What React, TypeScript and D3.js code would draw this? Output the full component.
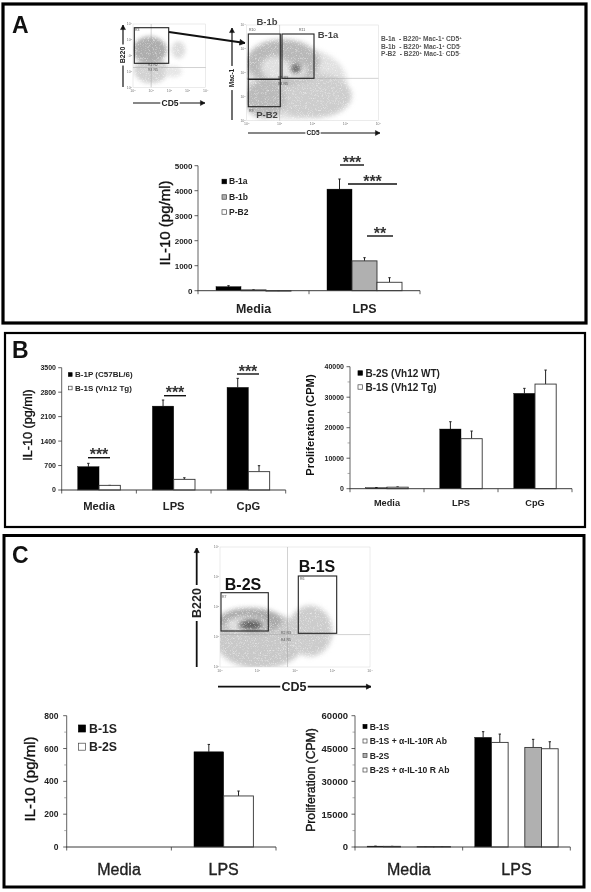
import React from "react";
import * as d3 from "d3";

// ---------- data ----------
const twoCats = ["Media", "LPS"];
const threeCats = ["Media", "LPS", "CpG"];

const aSeries = ["B-1a", "B-1b", "P-B2"];
const aValues = [[161, 4063], [32, 1193], [3, 337]];
const aErrors = [[200, 4467], [40, 1320], [3, 520]];
const aTicks = [0, 1000, 2000, 3000, 4000, 5000];

const bLeftSeries = ["B-1P (C57BL/6)", "B-1S (Vh12 Tg)"];
const bLeftValues = [[667, 2400, 2936], [133, 305, 525]];
const bLeftErrors = [[763, 2575, 3195], [133, 350, 696]];
const bLeftTicks = [0, 700, 1400, 2100, 2800, 3500];

const bRightSeries = ["B-2S (Vh12 WT)", "B-1S (Vh12 Tg)"];
const bRightValues = [[300, 19560, 31260], [500, 16400, 34300]];
const bRightErrors = [[350, 21960, 32900], [600, 18900, 38900]];
const bRightTicks = [0, 10000, 20000, 30000, 40000];
const bRightMinor = [5000, 15000, 25000, 35000];

const cLeftSeries = ["B-1S", "B-2S"];
const cLeftValues = [[0, 580], [0, 311]];
const cLeftErrors = [[0, 625], [0, 341]];
const cLeftTicks = [0, 200, 400, 600, 800];
const cLeftMinor = [100, 300, 500, 700];

const cRightSeries = ["B-1S", "B-1S + α-IL-10R Ab", "B-2S", "B-2S + α-IL-10 R Ab"];
const cRightValues = [[400, 50100], [300, 47800], [200, 45500], [200, 44900]];
const cRightErrors = [[400, 52700], [300, 51600], [200, 49200], [200, 48100]];
const cRightTicks = [0, 15000, 30000, 45000, 60000];
const cRightMinor = [7500, 22500, 37500, 52500];

// flow-plot density regions, in log decades: [log x, log y, radius x, radius y, shade]
type Blob = [number, number, number, number, string];
const flowGate: Blob[] = [
  [1.0, 1.1, 0.95, 0.85, "#d2d2d2"],
  [2.2, 1.0, 0.5, 0.35, "#e6e6e6"],
  [2.5, 2.36, 0.38, 0.55, "#dcdcdc"],
  [0.92, 2.36, 0.95, 0.85, "#adadad"],
];
const flowMac: Blob[] = [
  [1.3, 1.6, 1.75, 1.55, "#e0e0e0"],
  [2.0, 1.05, 1.2, 0.95, "#cdcdcd"],
  [0.55, 0.9, 0.62, 0.8, "#bababa"],
  [1.1, 2.45, 1.12, 0.95, "#b8b8b8"],
  [0.85, 2.2, 0.42, 0.5, "#e0e0e0"],
  [1.45, 2.1, 0.36, 0.36, "#e8e8e8"],
  [1.5, 2.2, 0.18, 0.22, "#8a8a8a"],
  [1.48, 2.15, 0.1, 0.12, "#4d4d4d"],
];
const flowSpleen: Blob[] = [
  [1.07, 0.9, 1.2, 0.95, "#c8c8c8"],
  [2.4, 1.2, 0.6, 0.85, "#cccccc"],
  [0.8, 1.55, 0.85, 0.42, "#a8a8a8"],
  [0.7, 1.42, 0.55, 0.26, "#e0e0e0"],
  [0.82, 1.4, 0.32, 0.17, "#5e5e5e"],
];
const decadeTicks = [0, 1, 2, 3, 4];

// ---------- helpers ----------
const FONT = "'Liberation Sans', Arial, sans-serif";
const BLACK = "#000000";
const GREY = "#b0b0b0";
const WHITE = "#ffffff";

type ChartProps = {
  cats: string[];
  values: number[][];
  errors: number[][];
  fills: string[];
  domainMax: number;
  ticks: number[];
  minor?: number[];
  x0: number; x1: number; y0: number; y1: number;
  barW: number;
  slots?: (number | null)[];
  tickFont: number; tickEnd: number;
  catFont: number; catBase: number; catHeavy?: boolean;
  yLabel: string; yLabelX: number; yLabelY: number; yLabelFont: number; yLabelHeavy?: boolean;
  showValues?: boolean;
};

function BarChart(p: ChartProps) {
  const y = d3.scaleLinear().domain([0, p.domainMax]).range([p.y0, p.y1]);
  const band = d3.scaleBand<string>().domain(p.cats).range([p.x0, p.x1]);
  const slots = p.slots ?? p.values.map((_, i) => i);
  const inner = d3.scaleBand<number>().domain(d3.range(slots.length)).range([0, p.barW * slots.length]);
  const edges = p.cats.map((c) => band(c)!).concat([p.x1]);
  const axis = "#3a3a3a";
  const catHeavy = p.catHeavy ?? true;
  return (
    <g fontFamily={FONT}>
      {slots.map((s, slot) => {
        if (s === null) return null;
        return p.cats.map((c, ci) => {
          const v = p.values[s][ci];
          const e = p.errors[s][ci];
          if (v === 0) return null;
          const groupLeft = band(c)! + band.bandwidth() / 2 - (p.barW * slots.length) / 2;
          const bx = groupLeft + inner(slot)!;
          const cx = bx + p.barW / 2;
          const fill = p.fills[s];
          return (
            <g key={`${slot}-${c}`}>
              <line x1={cx} x2={cx} y1={y(v)} y2={y(e)} stroke="#222" strokeWidth={1} />
              <line x1={cx - 1.2} x2={cx + 1.2} y1={y(e)} y2={y(e)} stroke="#222" strokeWidth={1} />
              <rect x={bx} y={y(v)} width={p.barW} height={Math.max(y(0) - y(v), 0.5)} fill={fill}
                stroke={fill === BLACK ? BLACK : "#333"} strokeWidth={fill === BLACK ? 0.4 : 0.9} />
              {p.showValues && (
                <text x={cx} y={y(e) - 3.5} textAnchor="middle" fontSize={6.8} fontWeight="bold" fill="#333">{v}</text>
              )}
            </g>
          );
        });
      })}
      <line x1={p.x0} x2={p.x0} y1={p.y0} y2={p.y1} stroke={axis} strokeWidth={0.8} />
      <line x1={p.x0 - 0.5} x2={p.x1} y1={p.y0} y2={p.y0} stroke={axis} strokeWidth={1} />
      {edges.map((e, i) => (
        <line key={i} x1={e} x2={e} y1={p.y0} y2={p.y0 + 3.5} stroke={axis} strokeWidth={0.8} />
      ))}
      {p.ticks.map((t) => (
        <g key={t}>
          <line x1={p.x0 - 3.5} x2={p.x0} y1={y(t)} y2={y(t)} stroke={axis} strokeWidth={0.8} />
          <text x={p.tickEnd} y={y(t)} dy="0.35em" textAnchor="end" fontSize={p.tickFont} fontWeight="bold" fill="#222">{t}</text>
        </g>
      ))}
      {(p.minor ?? []).map((t) => (
        <line key={t} x1={p.x0 - 2.5} x2={p.x0} y1={y(t)} y2={y(t)} stroke="#777" strokeWidth={0.6} />
      ))}
      {p.cats.map((c) => (
        <text key={c} x={band(c)! + band.bandwidth() / 2} y={p.catBase} textAnchor="middle" fontSize={p.catFont}
          fontWeight={catHeavy ? "bold" : "normal"} stroke={catHeavy ? "none" : "#222"} strokeWidth={catHeavy ? 0 : 0.35} fill="#222">{c}</text>
      ))}
      <text transform={`translate(${p.yLabelX},${p.yLabelY}) rotate(-90)`} textAnchor="middle" fontSize={p.yLabelFont}
        fontWeight={p.yLabelHeavy ? "bold" : "normal"} stroke={p.yLabelHeavy ? "none" : "#111"} strokeWidth={p.yLabelHeavy ? 0 : 0.35} fill="#111">
        {p.yLabel}
      </text>
    </g>
  );
}

function Legend({ names, fills, x, tx, ys, size, font }: { names: string[]; fills: string[]; x: number; tx: number; ys: number[]; size: number; font: number }) {
  return (
    <g fontFamily={FONT}>
      {names.map((n, i) => (
        <g key={n}>
          <rect x={x} y={ys[i] - size / 2} width={size} height={size} fill={fills[i]}
            stroke={fills[i] === BLACK ? BLACK : "#444"} strokeWidth={0.7} />
          <text x={tx} y={ys[i]} dy="0.35em" fontSize={font} fontWeight="bold" fill="#222">{n}</text>
        </g>
      ))}
    </g>
  );
}

function Sig({ x1, x2, y, stars, font = 16 }: { x1: number; x2: number; y: number; stars: string; font?: number }) {
  return (
    <g fontFamily={FONT}>
      <line x1={x1} x2={x2} y1={y} y2={y} stroke="#111" strokeWidth={1.4} />
      <text x={(x1 + x2) / 2} y={y + 7.5} textAnchor="middle" fontSize={font} fontWeight="bold" fill="#333" dy={-5}>{stars}</text>
    </g>
  );
}

type Gate = [number, number, number, number];
function Flow({ id, blobs, left, right, top, bottom, cross, gates, blur, tags }: {
  id: string; blobs: Blob[]; left: number; right: number; top: number; bottom: number;
  cross: [number, number]; gates: Gate[]; blur: string; tags: [number, number, string][];
}) {
  const x = d3.scaleLinear().domain([0, 4]).range([left, right]);
  const y = d3.scaleLinear().domain([0, 4]).range([bottom, top]);
  return (
    <g fontFamily={FONT}>
      <clipPath id={id}><rect x={left} y={top} width={right - left} height={bottom - top} /></clipPath>
      <rect x={left} y={top} width={right - left} height={bottom - top} fill="#fff" stroke="#d8d8d8" strokeWidth={0.5} />
      <g clipPath={`url(#${id})`}>
        <g filter={`url(#${blur})`}>
          {blobs.map((b, i) => (
            <ellipse key={i} cx={x(b[0])} cy={y(b[1])} rx={x(b[2]) - x(0)} ry={y(0) - y(b[3])} fill={b[4]} />
          ))}
        </g>
      </g>
      <line x1={x(cross[0])} x2={x(cross[0])} y1={top} y2={bottom} stroke="#a4a4a4" strokeWidth={0.5} />
      <line x1={left} x2={right} y1={y(cross[1])} y2={y(cross[1])} stroke="#a4a4a4" strokeWidth={0.5} />
      {decadeTicks.map((t) => (
        <g key={t} fill="#777" fontSize={3.5}>
          <text x={x(t)} y={bottom + 4.5} textAnchor="middle">10<tspan dy={-1} fontSize={2.5}>{t}</tspan></text>
          <text x={left - 1} y={y(t)} dy="0.35em" textAnchor="end">10<tspan dy={-1} fontSize={2.5}>{t}</tspan></text>
        </g>
      ))}
      {tags.map((t, i) => (
        <text key={i} x={t[0]} y={t[1]} fontSize={3.5} fill="#555">{t[2]}</text>
      ))}
      {gates.map((g, i) => (
        <rect key={i} x={g[0]} y={g[1]} width={g[2] - g[0]} height={g[3] - g[1]} fill="none" stroke="#222" strokeWidth={1.1} />
      ))}
    </g>
  );
}

function Arrow({ x1, y1, x2, y2, w = 1.2, head = 4 }: { x1: number; y1: number; x2: number; y2: number; w?: number; head?: number }) {
  const a = Math.atan2(y2 - y1, x2 - x1);
  const p = (r: number, d: number) => `${x2 + r * Math.cos(a + d)},${y2 + r * Math.sin(a + d)}`;
  return (
    <g>
      <line x1={x1} y1={y1} x2={x2} y2={y2} stroke="#111" strokeWidth={w} />
      <polygon points={`${p(head * 1.3, Math.PI - 0.5)} ${x2},${y2} ${p(head * 1.3, Math.PI + 0.5)}`} fill="#111" stroke="#111" strokeWidth={w * 0.4} />
    </g>
  );
}

function AxisName({ x, y, text, font, vertical, pad }: { x: number; y: number; text: string; font: number; vertical?: boolean; pad: number }) {
  const w = text.length * font * 0.68 + pad;
  return (
    <g fontFamily={FONT}>
      {vertical
        ? <rect x={x - font * 0.7} y={y - w / 2} width={font * 1.4} height={w} fill="#fff" />
        : <rect x={x - w / 2} y={y - font * 0.7} width={w} height={font * 1.4} fill="#fff" />}
      <text transform={vertical ? `translate(${x},${y}) rotate(-90)` : `translate(${x},${y})`} dy="0.35em" textAnchor="middle"
        fontSize={font} fontWeight="bold" fill="#222">{text}</text>
    </g>
  );
}

function Pheno({ x, y, name, a, b, c }: { x: number; y: number; name: string; a: string; b: string; c: string }) {
  const s = { fontSize: 4.2, baselineShift: "super" } as any;
  return (
    <text x={x} y={y} fontFamily={FONT} fontSize={6.6} fontWeight="bold" fill="#555" xmlSpace="preserve">
      {name} - B220<tspan style={s}>{a}</tspan> Mac-1<tspan style={s}>{b}</tspan> CD5<tspan style={s}>{c}</tspan>
    </text>
  );
}

export default function App() {
  return (
    <svg width={591} height={892} viewBox="0 0 591 892" style={{ position: "absolute", left: 0, top: 0, background: "#fff" }}>
      <defs>
        {[["stipple", 2.8], ["stippleSmall", 2]].map(([fid, sd]) => (
          <filter key={fid as string} id={fid as string} x="-15%" y="-15%" width="130%" height="130%" colorInterpolationFilters="sRGB">
            <feGaussianBlur in="SourceGraphic" stdDeviation={sd as number} result="soft" />
            <feTurbulence type="fractalNoise" baseFrequency="1.6" numOctaves={1} seed={7} result="noise" />
            <feColorMatrix in="noise" type="matrix" values="0 0 0 0 0  0 0 0 0 0  0 0 0 0 0  0 0 0 2 0.05" result="mask" />
            <feComposite in="soft" in2="mask" operator="in" />
          </filter>
        ))}
        <filter id="scan" x="0" y="0" width="100%" height="100%" colorInterpolationFilters="sRGB">
          <feGaussianBlur stdDeviation={0.4} />
        </filter>
      </defs>

      <g filter="url(#scan)">
      {/* panel frames */}
      <rect x={0} y={0} width={591} height={892} fill="#fff" />
      <rect x={3} y={4} width={583} height={319} fill="#fff" stroke="#000" strokeWidth={3.2} />
      <rect x={5} y={333} width={580} height={194} fill="#fff" stroke="#000" strokeWidth={2.2} />
      <rect x={4} y={535.5} width={580} height={351.5} fill="#fff" stroke="#000" strokeWidth={3} />

      <g fontFamily={FONT} fontWeight="bold" fontSize={23} fill="#111">
        <text x={12} y={33}>A</text>
        <text x={12} y={358}>B</text>
        <text x={12} y={563}>C</text>
      </g>

      {/* Panel A flow plots */}
      <Flow id="clipA1" blur="stippleSmall" blobs={flowGate} left={133} right={205.7} top={24} bottom={87.3} cross={[1, 1.25]}
        gates={[[134.3, 27.7, 168.7, 63.3]]} tags={[[135, 31, "R3"], [148, 66, "R1 R2"], [148, 71, "R4 R5"]]} />
      <Arrow x1={123} y1={87} x2={123} y2={25} w={1.2} />
      <AxisName x={123} y={55} text="B220" font={7} vertical pad={2} />
      <Arrow x1={133} y1={103} x2={205} y2={103} w={1.2} />
      <AxisName x={170} y={103} text="CD5" font={8.5} pad={2} />

      <Flow id="clipA2" blur="stipple" blobs={flowMac} left={246.7} right={378.3} top={25} bottom={120.7} cross={[1, 1.77]}
        gates={[[248.3, 34, 280.3, 79.3], [282, 34, 314, 78.3], [248.3, 79.3, 280.3, 106.7]]}
        tags={[[249, 31, "R10"], [299, 31, "R11"], [278, 79, "R1 R3"], [278, 85, "R4 R5"], [249, 112, "R9"]]} />
      <Arrow x1={232} y1={120} x2={232} y2={28} w={1.2} />
      <AxisName x={232} y={78} text="Mac-1" font={6.5} vertical pad={2} />
      <Arrow x1={248} y1={133} x2={380} y2={133} w={1.2} />
      <AxisName x={313} y={133} text="CD5" font={6.5} pad={2} />

      <Arrow x1={169} y1={32} x2={245} y2={43} w={1.9} head={4.5} />

      <g fontFamily={FONT} fontWeight="bold" fontSize={9.5} fill="#444" textAnchor="middle">
        <text x={267} y={25}>B-1b</text>
        <text x={328} y={38}>B-1a</text>
        <text x={267} y={118}>P-B2</text>
      </g>
      <Pheno x={381} y={41} name="B-1a " a="+" b="+" c="+" />
      <Pheno x={381} y={48.5} name="B-1b " a="+" b="+" c="-" />
      <Pheno x={381} y={56} name="P-B2 " a="+" b="-" c="-" />

      {/* Panel A bars */}
      <BarChart cats={twoCats} values={aValues} errors={aErrors} fills={[BLACK, GREY, WHITE]} domainMax={5000} ticks={aTicks}
        x0={198} x1={420} y0={290.7} y1={165.7} barW={25} tickFont={8} tickEnd={192.5}
        catFont={12.4} catBase={313} yLabel="IL-10 (pg/ml)" yLabelX={170} yLabelY={223} yLabelFont={15} />
      <Legend names={aSeries} fills={[BLACK, GREY, WHITE]} x={222} tx={229} ys={[181.5, 197, 212]} size={4.5} font={8.5} />
      <Sig x1={340} x2={364} y={165} stars="***" />
      <Sig x1={348} x2={397} y={184} stars="***" />
      <Sig x1={367} x2={393} y={236} stars="**" />

      {/* Panel B bars */}
      <BarChart cats={threeCats} values={bLeftValues} errors={bLeftErrors} fills={[BLACK, WHITE]} domainMax={3500} ticks={bLeftTicks}
        x0={61.7} x1={285.7} y0={490} y1={367.7} barW={21.3} tickFont={7} tickEnd={56}
        catFont={11.2} catBase={510} yLabel="IL-10 (pg/ml)" yLabelX={32} yLabelY={425} yLabelFont={12.6} />
      <Legend names={bLeftSeries} fills={[BLACK, WHITE]} x={68.5} tx={75} ys={[374.5, 388]} size={3.6} font={8} />
      <Sig x1={88} x2={110} y={457.7} stars="***" />
      <Sig x1={164} x2={186} y={395.7} stars="***" />
      <Sig x1={237} x2={259} y={374} stars="***" />

      <BarChart cats={threeCats} values={bRightValues} errors={bRightErrors} fills={[BLACK, WHITE]} domainMax={40000} ticks={bRightTicks} minor={bRightMinor}
        x0={350} x1={572} y0={488.7} y1={366.7} barW={21.2} tickFont={7} tickEnd={344}
        catFont={9.2} catBase={506} yLabel="Proliferation (CPM)" yLabelX={314} yLabelY={425} yLabelFont={11.2} yLabelHeavy />
      <Legend names={bRightSeries} fills={[BLACK, WHITE]} x={358} tx={365.5} ys={[373, 387]} size={4.4} font={10} />

      {/* Panel C flow plot */}
      <Flow id="clipC" blur="stipple" blobs={flowSpleen} left={220} right={370} top={547} bottom={667} cross={[1.8, 1.08]}
        gates={[[221, 592.7, 268.3, 631], [298.3, 576, 336.7, 633.3]]}
        tags={[[222, 598, "R7"], [300, 580, "R6"], [281, 634, "R2 R3"], [281, 641, "R4 R5"]]} />
      <g fontFamily={FONT} fontWeight="bold" fontSize={16} fill="#111" textAnchor="middle">
        <text x={243} y={590}>B-2S</text>
        <text x={317} y={572}>B-1S</text>
      </g>
      <Arrow x1={196.7} y1={667} x2={196.7} y2={548} w={1.8} />
      <AxisName x={196.7} y={603} text="B220" font={12.5} vertical pad={2} />
      <Arrow x1={218} y1={686.7} x2={371} y2={686.7} w={1.8} />
      <AxisName x={294} y={686.7} text="CD5" font={12.5} pad={2} />

      {/* Panel C bars */}
      <BarChart cats={twoCats} values={cLeftValues} errors={cLeftErrors} fills={[BLACK, WHITE]} domainMax={800} ticks={cLeftTicks} minor={cLeftMinor}
        x0={66.7} x1={276} y0={847} y1={715.7} barW={29.7} tickFont={8.5} tickEnd={58.5}
        catFont={16} catBase={875} catHeavy={false} yLabel="IL-10 (pg/ml)" yLabelX={35} yLabelY={779} yLabelFont={15} />
      <Legend names={cLeftSeries} fills={[BLACK, WHITE]} x={78.5} tx={89} ys={[728.5, 746.7]} size={7} font={12.3} />

      <BarChart cats={twoCats} values={cRightValues} errors={cRightErrors} fills={[BLACK, WHITE, GREY, WHITE]} domainMax={60000} ticks={cRightTicks} minor={cRightMinor}
        x0={355} x1={570.3} y0={847} y1={715.7} barW={16.67} slots={[0, 1, null, 2, 3]} tickFont={9.5} tickEnd={348}
        catFont={16} catBase={875} catHeavy={false} yLabel="Proliferation (CPM)" yLabelX={315} yLabelY={780} yLabelFont={12.2} />
      <Legend names={cRightSeries} fills={[BLACK, WHITE, GREY, WHITE]} x={363} tx={369.7} ys={[726.5, 741, 755.5, 770]} size={4} font={8.6} />
      </g>
    </svg>
  );
}
